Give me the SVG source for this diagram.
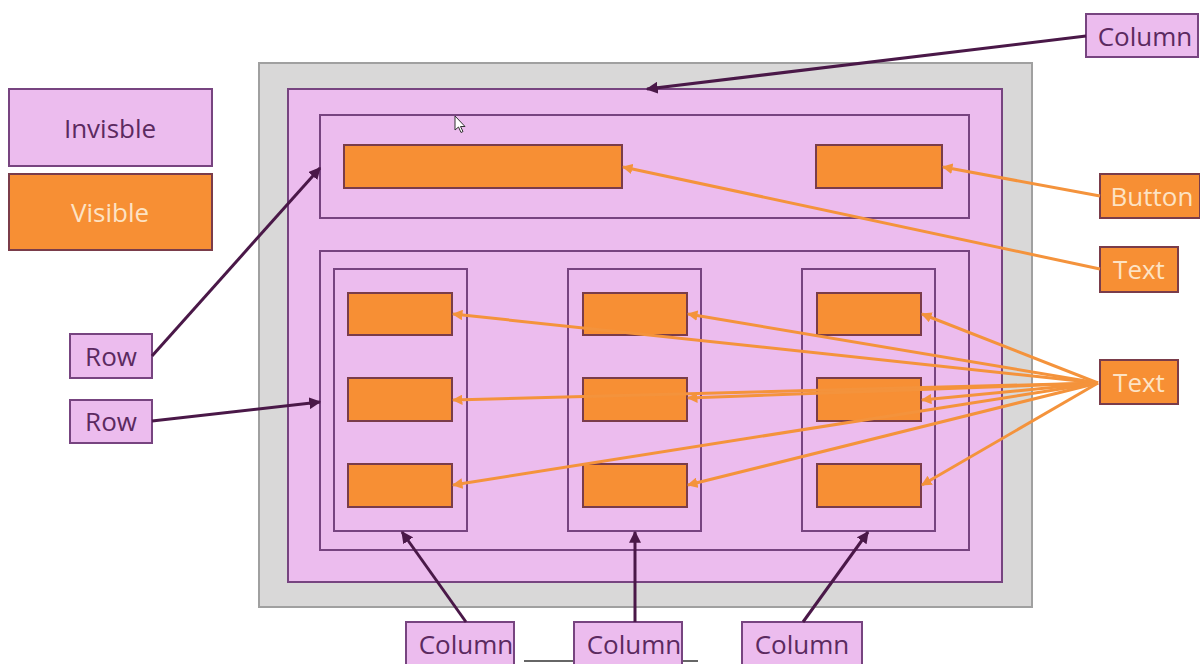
<svg xmlns="http://www.w3.org/2000/svg" width="1200" height="664" viewBox="0 0 1200 664">
  <style>
    .inv { fill: #ecbcee; stroke: #774480; stroke-width: 2; }
    .vis { fill: #f78f34; stroke: #7a3c4a; stroke-width: 2; }
    .frame { fill: #d9d8d8; stroke: #a0a0a0; stroke-width: 2; }
    .lbl { font-family: "Open Sans", "Liberation Sans", sans-serif; font-size: 26px; text-anchor: middle; dominant-baseline: central; }
    .dark { fill: #5b2a60; }
    .light { fill: #fde3c4; }
    .pl { stroke: #4a1848; stroke-width: 3; fill: none; marker-end: url(#ap); }
    .ol { stroke: #f4933c; stroke-width: 3; fill: none; marker-end: url(#ao); }
  </style>
  <defs>
    <marker id="ap" viewBox="0 0 10 10" refX="9" refY="5" markerWidth="4" markerHeight="4" orient="auto" markerUnits="strokeWidth">
      <path d="M0,0 L10,5 L0,10 z" fill="#4a1848"/>
    </marker>
    <marker id="ao" viewBox="0 0 10 10" refX="9" refY="5" markerWidth="3.5" markerHeight="3.5" orient="auto" markerUnits="strokeWidth">
      <path d="M0,0 L10,5 L0,10 z" fill="#f4933c"/>
    </marker>
  </defs>
  <rect width="1200" height="664" fill="#ffffff"/>

  <!-- legend -->
  <g id="legend-invisible">
    <rect class="inv" x="9" y="89" width="203" height="77"/>
    <text class="lbl dark" x="110" y="128">Invisble</text>
  </g>
  <g id="legend-visible">
    <rect class="vis" x="9" y="174" width="203" height="76"/>
    <text class="lbl light" x="110" y="212">Visible</text>
  </g>

  <!-- screen layout -->
  <g id="screen">
    <rect class="frame" x="259" y="63" width="773" height="544"/>
  </g>
  <g id="column-main">
    <rect class="inv" x="288" y="89" width="714" height="493"/>
  </g>
  <g id="row-top">
    <rect class="inv" x="320" y="115" width="649" height="103"/>
    <rect id="text-title" class="vis" x="344" y="145" width="278" height="43"/>
    <rect id="button-top" class="vis" x="816" y="145" width="126" height="43"/>
  </g>
  <g id="row-bottom">
    <rect class="inv" x="320" y="251" width="649" height="299"/>
  </g>
  <g id="column-1">
    <rect class="inv" x="334" y="269" width="133" height="262"/>
    <rect class="vis" x="348" y="293" width="104" height="42"/>
    <rect class="vis" x="348" y="378" width="104" height="43"/>
    <rect class="vis" x="348" y="464" width="104" height="43"/>
  </g>
  <g id="column-2">
    <rect class="inv" x="568" y="269" width="133" height="262"/>
    <rect class="vis" x="583" y="293" width="104" height="42"/>
    <rect class="vis" x="583" y="378" width="104" height="43"/>
    <rect class="vis" x="583" y="464" width="104" height="43"/>
  </g>
  <g id="column-3">
    <rect class="inv" x="802" y="269" width="133" height="262"/>
    <rect class="vis" x="817" y="293" width="104" height="42"/>
    <rect class="vis" x="817" y="378" width="104" height="43"/>
    <rect class="vis" x="817" y="464" width="104" height="43"/>
  </g>

  <!-- pointer -->
  <g id="cursor">
    <path d="M455,116 L455,130 L458.5,127 L461,132.5 L463,131.5 L460.5,126.5 L465,126.5 z" fill="#ffffff" stroke="#333333" stroke-width="1"/>
  </g>

  <!-- edge of a box below the column labels -->
  <line x1="524" y1="661" x2="698" y2="661" stroke="#333333" stroke-width="1.5"/>

  <!-- callout labels -->
  <g id="label-column-top">
    <rect class="inv" x="1086" y="14" width="112" height="43"/>
    <text class="lbl dark" x="1145" y="36">Column</text>
  </g>
  <g id="label-button">
    <rect class="vis" x="1100" y="174" width="100" height="44"/>
    <text class="lbl light" x="1152" y="196">Button</text>
  </g>
  <g id="label-text-1">
    <rect class="vis" x="1100" y="247" width="78" height="45"/>
    <text class="lbl light" x="1139" y="269">Text</text>
  </g>
  <g id="label-text-2">
    <rect class="vis" x="1100" y="360" width="78" height="44"/>
    <text class="lbl light" x="1139" y="382">Text</text>
  </g>
  <g id="label-row-1">
    <rect class="inv" x="70" y="334" width="82" height="44"/>
    <text class="lbl dark" x="111" y="356">Row</text>
  </g>
  <g id="label-row-2">
    <rect class="inv" x="70" y="400" width="82" height="43"/>
    <text class="lbl dark" x="111" y="421">Row</text>
  </g>
  <g id="label-column-1">
    <rect class="inv" x="406" y="622" width="108" height="50"/>
    <text class="lbl dark" x="466" y="644">Column</text>
  </g>
  <g id="label-column-2">
    <rect class="inv" x="574" y="622" width="108" height="50"/>
    <text class="lbl dark" x="634" y="644">Column</text>
  </g>
  <g id="label-column-3">
    <rect class="inv" x="742" y="622" width="120" height="50"/>
    <text class="lbl dark" x="802" y="644">Column</text>
  </g>

  <!-- connectors -->
  <g id="connectors">
    <line class="pl" x1="1086" y1="36" x2="647" y2="89"/>
    <line class="pl" x1="152" y1="356" x2="320" y2="168"/>
    <line class="pl" x1="152" y1="421" x2="320" y2="402"/>
    <line class="pl" x1="466" y1="622" x2="402" y2="532"/>
    <line class="pl" x1="635" y1="622" x2="635" y2="532"/>
    <line class="pl" x1="803" y1="622" x2="868" y2="532"/>

    <line class="ol" x1="1100" y1="196" x2="943" y2="167"/>
    <line class="ol" x1="1100" y1="269" x2="623" y2="167"/>

    <line class="ol" x1="1098" y1="383" x2="453" y2="314"/>
    <line class="ol" x1="1098" y1="383" x2="453" y2="400"/>
    <line class="ol" x1="1098" y1="383" x2="453" y2="485"/>
    <line class="ol" x1="1098" y1="383" x2="688" y2="314"/>
    <line class="ol" x1="1098" y1="383" x2="688" y2="398"/>
    <line class="ol" x1="1098" y1="383" x2="688" y2="485"/>
    <line class="ol" x1="1098" y1="383" x2="922" y2="314"/>
    <line class="ol" x1="1098" y1="383" x2="922" y2="400"/>
    <line class="ol" x1="1098" y1="383" x2="922" y2="485"/>
  </g>
</svg>
